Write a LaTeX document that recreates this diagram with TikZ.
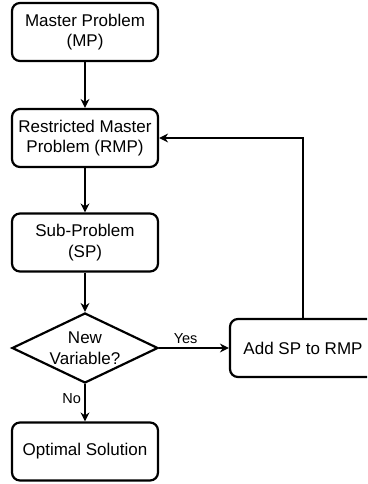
\documentclass[tikz,border=0pt]{standalone}
\usepackage{fontspec}
\setmainfont{Liberation Sans}
\usetikzlibrary{arrows.meta,positioning,shapes.geometric}

\begin{document}
\begin{tikzpicture}[
  x=1pt, y=-1pt,
  >={Stealth[length=9pt,width=9pt]},
  block/.style={draw, line width=2.2pt, rounded corners=8pt,
    minimum width=146pt, minimum height=58pt, inner sep=0pt,
    align=center, font=\fontsize{17}{20.5}\selectfont},
  decision/.style={draw, diamond, line width=2.2pt, aspect=2.1,
    minimum width=146pt, minimum height=70pt, inner sep=0pt,
    align=center, font=\fontsize{17}{20.5}\selectfont},
  flow/.style={->, line width=1.3pt},
  lab/.style={font=\fontsize{14.5}{17}\selectfont}
]
  % Page frame, the right box runs past the edge
  \clip (0,0) rectangle (367,484);

  % Main column
  \node[block] (mp) at (85,32) {Master Problem\\(MP)};
  \node[block] (rmp) at (85,138) {Restricted Master\\Problem (RMP)};
  \node[block] (sp) at (85,242.5) {Sub-Problem\\(SP)};
  \node[decision] (newvar) at (85,348) {New\\Variable?};
  \node[block] (opt) at (85,451.5) {Optimal Solution};

  % Side box
  \node[block] (addsp) at (303,348) {Add SP to RMP};

  % Connectors
  \draw[flow] (mp) -- (rmp);
  \draw[flow] (rmp) -- (sp);
  \draw[flow] (sp) -- (newvar);
  \draw[flow] (newvar) -- node[lab, above, pos=0.38] {Yes} (addsp);
  \draw[flow] (newvar) -- node[lab, left, pos=0.38] {No} (opt);

  % Loop back to the RMP
  \draw[flow] (addsp.north) |- (rmp.east);
\end{tikzpicture}
\end{document}
